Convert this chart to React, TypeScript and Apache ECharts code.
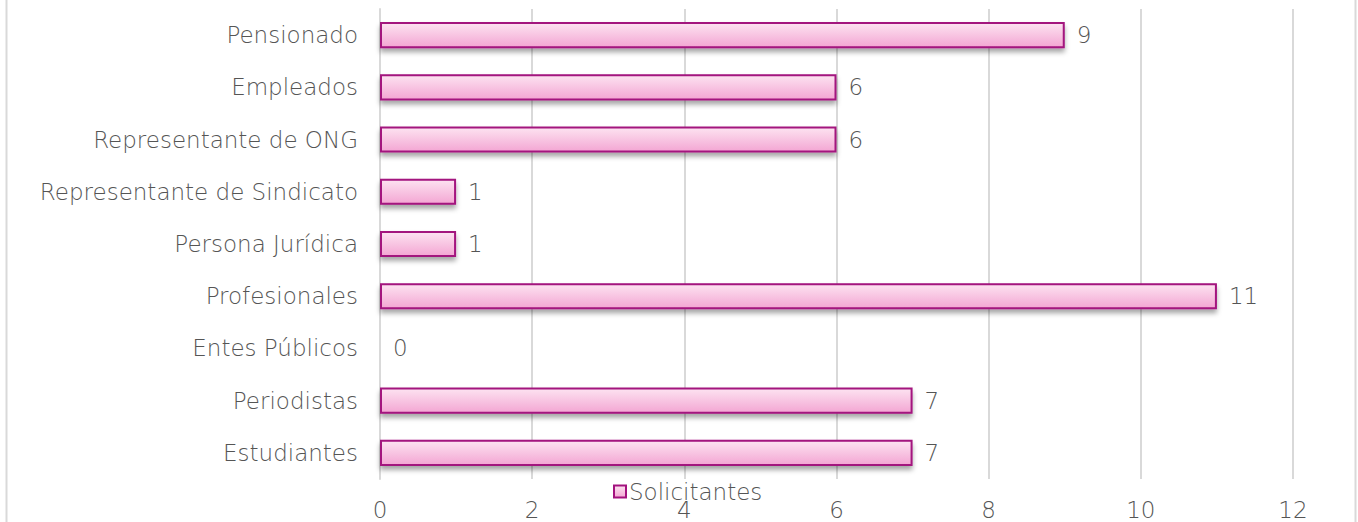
import React, { useEffect, useRef } from "react";
import * as echarts from "echarts";

const categories = [
  "Estudiantes",
  "Periodistas",
  "Entes Públicos",
  "Profesionales",
  "Persona Jurídica",
  "Representante de Sindicato",
  "Representante de ONG",
  "Empleados",
  "Pensionado",
];
const values = [7, 7, 0, 11, 1, 1, 6, 6, 9];
const seriesName = "Solicitantes";
const xTicks = { min: 0, max: 12, interval: 2 };

const FONT = "'Century Gothic', 'DejaVu Sans', sans-serif";
const TXT = "#555555";
const FS = 23;

export default function App() {
  const ref = useRef<HTMLDivElement>(null);
  useEffect(() => {
    if (!ref.current) return;
    const chart = echarts.init(ref.current, null, { renderer: "svg" });
    const fill = new echarts.graphic.LinearGradient(0, 0, 0, 1, [
      { offset: 0, color: "#fde3f1" },
      { offset: 1, color: "#f3a6d3" },
    ]);
    chart.setOption({
      animation: false,
      textStyle: { fontFamily: FONT },
      grid: { left: 380, right: 65, top: 9, bottom: 43, containLabel: false },
      legend: {
        data: [seriesName],
        top: 475,
        left: 608,
        icon: "rect",
        itemWidth: 12,
        itemHeight: 12,
        itemGap: 4,
        textStyle: { fontFamily: FONT, fontSize: FS, fontWeight: 200, color: TXT, padding: [0, 0, 0, -2] },
      },
      xAxis: {
        type: "value",
        min: xTicks.min,
        max: xTicks.max,
        interval: xTicks.interval,
        axisLine: { show: false },
        axisTick: { show: false },
        splitLine: { lineStyle: { color: "#d9d9d9", width: 2 } },
        axisLabel: { fontFamily: FONT, fontSize: FS, fontWeight: 200, color: TXT, margin: 19 },
      },
      yAxis: {
        type: "category",
        data: categories,
        axisLine: { show: true, lineStyle: { color: "#d9d9d9", width: 2 } },
        axisTick: { show: false },
        axisLabel: { fontFamily: FONT, fontSize: FS, fontWeight: 200, color: TXT, margin: 22 },
      },
      series: [
        {
          name: seriesName,
          type: "bar",
          data: values,
          barWidth: "50%",
          itemStyle: {
            color: fill,
            borderColor: "#a3127e",
            borderWidth: 2,
            shadowBlur: 5,
            shadowOffsetY: 4,
            shadowColor: "rgba(0,0,0,0.35)",
          },
          label: {
            show: true,
            position: "right",
            distance: 12,
            fontFamily: FONT,
            fontSize: FS,
            fontWeight: 200,
            color: TXT,
          },
        },
      ],
      graphic: [
        { type: "line", shape: { x1: 6.5, y1: 0, x2: 6.5, y2: 522 }, style: { stroke: "#d9d9d9", lineWidth: 2 } },
        { type: "line", shape: { x1: 1355.5, y1: 0, x2: 1355.5, y2: 522 }, style: { stroke: "#d9d9d9", lineWidth: 2 } },
      ],
    });
    return () => chart.dispose();
  }, []);
  return (
    <div
      ref={ref}
      style={{ position: "fixed", left: 0, top: 0, width: 1358, height: 522, background: "#fff" }}
    />
  );
}
